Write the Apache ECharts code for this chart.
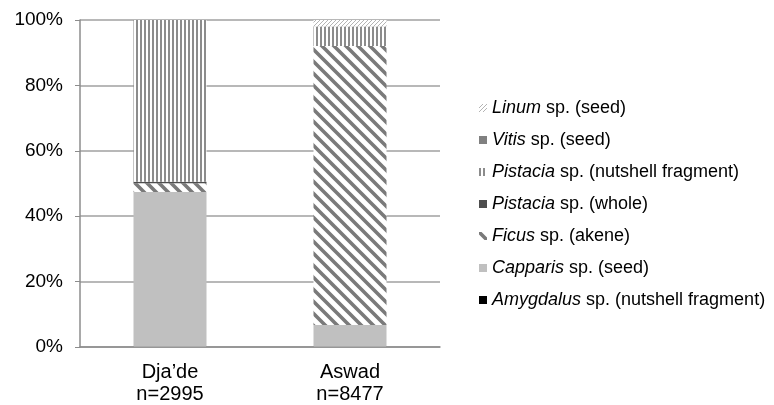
<!DOCTYPE html>
<html>
<head>
<meta charset="utf-8">
<script src="https://cdn.jsdelivr.net/npm/echarts@6/dist/echarts.min.js"></script>
<style>
html, body { margin: 0; padding: 0; background: #fff; }
#chart { width: 774px; height: 405px; }
</style>
</head>
<body>
<div id="chart"></div>
<script>
// data, percent of each site's assemblage
var categories = ['Dja\u2019de\nn=2995', 'Aswad\nn=8477'];
var amygdalusShell = [0.1, 0.05];
var capparisSeed = [47.3, 6.7];
var ficusAkene = [2.7, 85.3];
var pistaciaWhole = [0.4, 0];
var pistaciaShell = [49.5, 5.85];
var vitisSeed = [0, 0.1];
var linumSeed = [0, 2.0];
var yTicks = [0, 20, 40, 60, 80, 100];

// small canvas tiles for the hatch fills
function tile(w, h, draw) {
	var c = document.createElement('canvas');
	c.width = w;
	c.height = h;
	var ctx = c.getContext('2d');
	ctx.fillStyle = '#fff';
	ctx.fillRect(0, 0, w, h);
	draw(ctx);
	return { image: c, repeat: 'repeat' };
}

var vertHatch = tile(4, 4, function(ctx) {
	ctx.fillStyle = '#8c8c8c';
	ctx.fillRect(0, 0, 2, 4);
});

var ficusHatch = tile(12, 12, function(ctx) {
	ctx.strokeStyle = '#7a7a7a';
	ctx.lineWidth = 3.6;
	ctx.beginPath();
	ctx.moveTo(-6, -6); ctx.lineTo(18, 18);
	ctx.moveTo(-18, -6); ctx.lineTo(6, 18);
	ctx.moveTo(6, -6); ctx.lineTo(30, 18);
	ctx.stroke();
});

var linumHatch = tile(4, 4, function(ctx) {
	ctx.fillStyle = '#b4b4b4';
	ctx.fillRect(3, 0, 1, 1);
	ctx.fillRect(2, 1, 1, 1);
	ctx.fillRect(1, 2, 1, 1);
	ctx.fillRect(0, 3, 1, 1);
});

var seriesDefs = [
	{ name: 'Amygdalus sp. (nutshell fragment)', data: amygdalusShell, color: '#000' },
	{ name: 'Capparis sp. (seed)', data: capparisSeed, color: '#c0c0c0' },
	{ name: 'Ficus sp. (akene)', data: ficusAkene, color: ficusHatch },
	{ name: 'Pistacia sp. (whole)', data: pistaciaWhole, color: '#4d4d4d' },
	{ name: 'Pistacia sp. (nutshell fragment)', data: pistaciaShell, color: vertHatch },
	{ name: 'Vitis sp. (seed)', data: vitisSeed, color: '#808080' },
	{ name: 'Linum sp. (seed)', data: linumSeed, color: linumHatch }
];

var series = [];
for (var i = 0; i < seriesDefs.length; i++) {
	series.push({
		name: seriesDefs[i].name,
		type: 'bar',
		stack: 'total',
		barWidth: 73,
		data: seriesDefs[i].data,
		itemStyle: { color: seriesDefs[i].color },
		emphasis: { disabled: true }
	});
}

var legendOrder = [];
for (var j = seriesDefs.length - 1; j >= 0; j--) {
	legendOrder.push(seriesDefs[j].name);
}

var font = '"Liberation Sans", Arial, sans-serif';

var chart = echarts.init(document.getElementById('chart'));
chart.setOption({
	animation: false,
	backgroundColor: '#fff',
	grid: { left: 80, right: 334, top: 20, bottom: 58 },
	legend: {
		orient: 'vertical',
		left: 474,
		top: 92,
		itemWidth: 8,
		itemHeight: 8,
		itemGap: 10,
		icon: 'rect',
		data: legendOrder,
		textStyle: {
			fontFamily: font,
			fontSize: 18,
			color: '#000',
			lineHeight: 22,
			rich: {
				i: { fontFamily: font, fontSize: 18, fontStyle: 'italic', color: '#000' }
			}
		},
		formatter: function(name) {
			var k = name.indexOf(' ');
			return '{i|' + name.slice(0, k) + '}' + name.slice(k);
		}
	},
	xAxis: {
		type: 'category',
		data: categories,
		axisLine: { lineStyle: { color: '#8c8c8c', width: 1.5 } },
		axisTick: { show: false },
		axisLabel: {
			color: '#000',
			fontFamily: font,
			fontSize: 20,
			lineHeight: 22,
			margin: 14
		}
	},
	yAxis: {
		type: 'value',
		min: yTicks[0],
		max: yTicks[yTicks.length - 1],
		interval: 20,
		axisLine: { show: true, lineStyle: { color: '#8c8c8c', width: 1.5 } },
		axisTick: { show: true, length: 5, lineStyle: { color: '#8c8c8c' } },
		splitLine: { lineStyle: { color: '#a0a0a0', width: 1.5 } },
		axisLabel: {
			color: '#000',
			fontFamily: font,
			fontSize: 19,
			margin: 17,
			formatter: '{value}%'
		}
	},
	series: series
});
</script>
</body>
</html>
